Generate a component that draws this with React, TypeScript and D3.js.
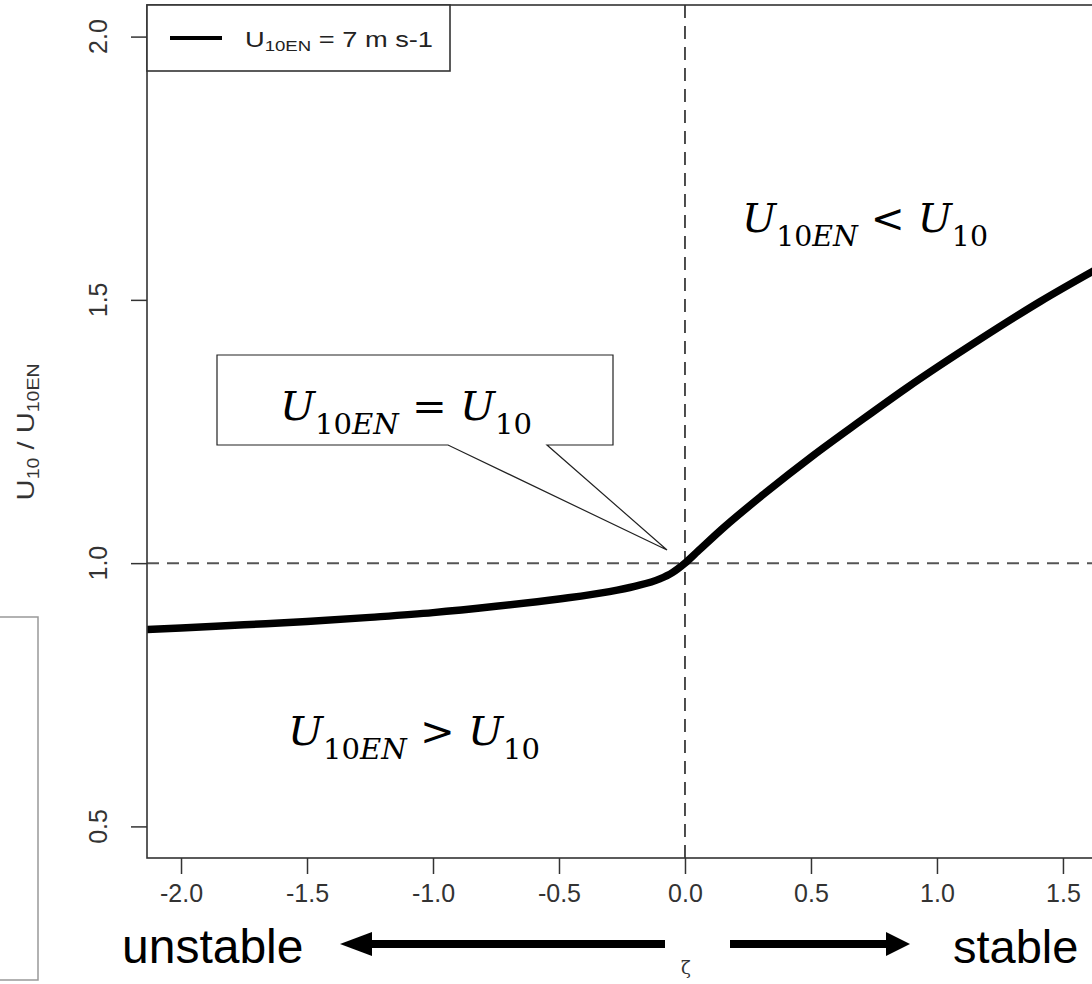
import React, { useEffect, useRef } from 'react';
import * as d3 from 'd3';

// stability parameter zeta and wind ratio U10 / U10EN
const zeta = [-2.135, -2.0, -1.75, -1.5, -1.25, -1.0, -0.75, -0.5, -0.3, -0.2, -0.1, -0.05, 0, 0.05, 0.15, 0.31, 0.51, 0.69, 0.88, 1.17, 1.41, 1.647];
const ratio = [0.874, 0.877, 0.883, 0.889, 0.897, 0.906, 0.918, 0.932, 0.946, 0.956, 0.97, 0.982, 1.0, 1.022, 1.066, 1.13, 1.205, 1.268, 1.333, 1.425, 1.497, 1.562];

const xTicks = [-2.0, -1.5, -1.0, -0.5, 0.0, 0.5, 1.0, 1.5];
const yTicks = [0.5, 1.0, 1.5, 2.0];
const legendSpeed = ' = 7 m s-1';

const sans = '"Liberation Sans", Arial, Helvetica, sans-serif';
const serif = '"DejaVu Serif", "Liberation Serif", serif';

function App() {
  const svgRef = useRef<SVGSVGElement>(null);

  useEffect(() => {
    const svg = d3.select(svgRef.current);
    svg.selectAll('*').remove();

    const x = d3.scaleLinear().domain([-2.135, 1.647]).range([147, 1100]);
    const y = d3.scaleLinear().domain([0.44, 2.06]).range([858, 5]);
    const [left, right] = x.range();
    const [bottom, top] = y.range();

    svg.append('clipPath').attr('id', 'plotclip')
      .append('rect').attr('x', left).attr('y', top).attr('width', right - left).attr('height', bottom - top);

    // reference lines
    svg.append('line')
      .attr('x1', left).attr('x2', right).attr('y1', y(1)).attr('y2', y(1))
      .attr('stroke', '#555').attr('stroke-width', 2).attr('stroke-dasharray', '12 8');
    svg.append('line')
      .attr('x1', x(0)).attr('x2', x(0)).attr('y1', top).attr('y2', bottom)
      .attr('stroke', '#222').attr('stroke-width', 1.6).attr('stroke-dasharray', '13 8');

    // the curve
    const line = d3.line<number>()
      .x((d, i) => x(zeta[i]))
      .y(d => y(d))
      .curve(d3.curveMonotoneX);
    svg.append('path')
      .datum(ratio)
      .attr('d', line)
      .attr('clip-path', 'url(#plotclip)')
      .attr('fill', 'none')
      .attr('stroke', '#000')
      .attr('stroke-width', 7.5);

    // frame
    svg.append('rect')
      .attr('x', left).attr('y', top).attr('width', right - left).attr('height', bottom - top)
      .attr('fill', 'none').attr('stroke', '#333').attr('stroke-width', 1.6);

    // x axis
    const xAxis = svg.append('g').attr('transform', `translate(0,${bottom})`)
      .call(d3.axisBottom(x).tickValues(xTicks).tickSize(16).tickPadding(10).tickFormat(d => (+d).toFixed(1)));
    xAxis.select('.domain').remove();
    xAxis.selectAll('line').attr('stroke', '#333').attr('stroke-width', 1.5);
    xAxis.selectAll('text').attr('font-family', sans).attr('font-size', 25).attr('fill', '#333');

    // y axis
    const yAxis = svg.append('g').attr('transform', `translate(${left},0)`)
      .call(d3.axisLeft(y).tickValues(yTicks).tickSize(16).tickFormat(() => ''));
    yAxis.select('.domain').remove();
    yAxis.selectAll('line').attr('stroke', '#333').attr('stroke-width', 1.5);
    svg.selectAll('.ylab').data(yTicks).enter().append('text')
      .attr('class', 'ylab')
      .attr('transform', d => `translate(107,${y(d)}) rotate(-90)`)
      .attr('text-anchor', 'middle')
      .attr('font-family', sans).attr('font-size', 25).attr('fill', '#333')
      .text(d => d.toFixed(1));

    // y title
    const yt = svg.append('text')
      .attr('transform', `translate(34,432) rotate(-90)`)
      .attr('text-anchor', 'middle')
      .attr('font-family', sans).attr('font-size', 24).attr('fill', '#333')
      .attr('textLength', 137).attr('lengthAdjust', 'spacingAndGlyphs');
    yt.append('tspan').text('U');
    yt.append('tspan').attr('font-size', 16).attr('dy', 5).text('10');
    yt.append('tspan').attr('dy', -5).text(' / U');
    yt.append('tspan').attr('font-size', 16).attr('dy', 5).text('10EN');

    // legend
    svg.append('rect').attr('x', left).attr('y', top).attr('width', 303).attr('height', 66)
      .attr('fill', '#fff').attr('stroke', '#333').attr('stroke-width', 1.6);
    svg.append('line').attr('x1', 170).attr('x2', 222).attr('y1', 38).attr('y2', 38)
      .attr('stroke', '#000').attr('stroke-width', 4);
    const lt = svg.append('text').attr('x', 245).attr('y', 47)
      .attr('font-family', sans).attr('font-size', 22).attr('fill', '#222')
      .attr('textLength', 188).attr('lengthAdjust', 'spacingAndGlyphs');
    lt.append('tspan').text('U');
    lt.append('tspan').attr('font-size', 15).attr('dy', 4).text('10EN');
    lt.append('tspan').attr('dy', -4).text(legendSpeed);

    // math annotations
    const mathLabel = (px: number, py: number, rel: string, w: number) => {
      const t = svg.append('text').attr('x', px).attr('y', py)
        .attr('font-family', serif).attr('font-size', 40).attr('fill', '#000')
        .attr('textLength', w).attr('lengthAdjust', 'spacingAndGlyphs');
      t.append('tspan').attr('font-style', 'italic').text('U');
      t.append('tspan').attr('font-size', 28).attr('dy', 14).text('10');
      t.append('tspan').attr('font-size', 28).attr('font-style', 'italic').text('EN');
      t.append('tspan').attr('dy', -14).text(` ${rel} `);
      t.append('tspan').attr('font-style', 'italic').text('U');
      t.append('tspan').attr('font-size', 28).attr('dy', 14).text('10');
    };

    // callout box
    svg.append('path')
      .attr('d', 'M217,355 H613 V445 H547 L667,550 L448,445 H217 Z')
      .attr('fill', '#fff').attr('stroke', '#222').attr('stroke-width', 1.2);

    mathLabel(742, 232, '<', 246);
    mathLabel(280, 420, '=', 252);
    mathLabel(288, 745, '>', 252);

    // stability arrows
    const arrows = svg.append('g').attr('fill', '#000');
    arrows.append('rect').attr('x', 360).attr('y', 940).attr('width', 305).attr('height', 8);
    arrows.append('path').attr('d', 'M340,944 L372,932 L372,956 Z');
    arrows.append('rect').attr('x', 730).attr('y', 940).attr('width', 160).attr('height', 8);
    arrows.append('path').attr('d', 'M910,944 L886,932 L886,956 Z');

    svg.append('text').attr('x', 122).attr('y', 963)
      .attr('font-family', sans).attr('font-size', 48).attr('fill', '#000').text('unstable');
    svg.append('text').attr('x', 953).attr('y', 963)
      .attr('font-family', sans).attr('font-size', 47).attr('fill', '#000').text('stable');
    svg.append('text').attr('x', 686).attr('y', 974).attr('text-anchor', 'middle')
      .attr('font-family', serif).attr('font-size', 18).attr('fill', '#333').text('ζ');

    // partial box at the left edge
    svg.append('rect').attr('x', -1).attr('y', 617).attr('width', 39).attr('height', 363)
      .attr('fill', 'none').attr('stroke', '#999').attr('stroke-width', 1.5);
  }, []);

  return (
    <svg ref={svgRef} width={1092} height={984}
      style={{ position: 'absolute', left: 0, top: 0, background: '#fff', display: 'block' }} />
  );
}

export default App;
